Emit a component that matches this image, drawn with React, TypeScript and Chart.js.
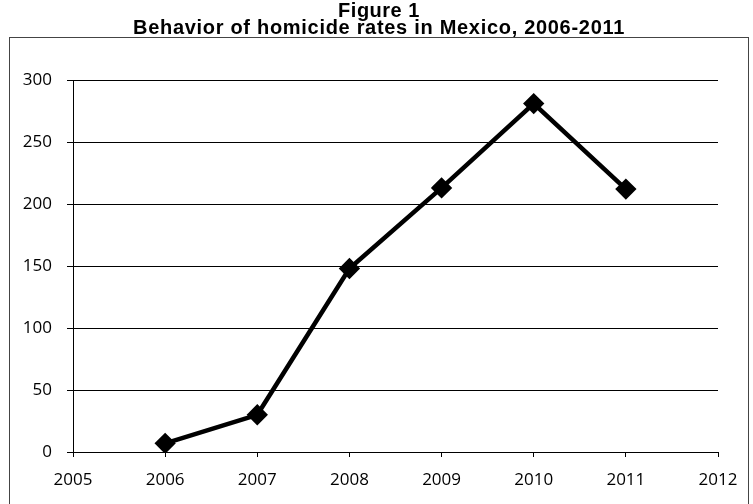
import React, { useEffect, useRef } from "react";
import { Chart, registerables } from "chart.js";

Chart.register(...registerables);

const years = [2006, 2007, 2008, 2009, 2010, 2011];
const homicideRates = [7, 30, 148, 213, 281, 212];
const titleLines = ["Figure 1", "Behavior of homicide rates in Mexico, 2006-2011"];

const framePlugin = {
  id: "frame",
  beforeDraw(chart: any) {
    const ctx = chart.ctx;
    ctx.save();
    ctx.fillStyle = "#ffffff";
    ctx.fillRect(0, 0, chart.width, chart.height);
    ctx.strokeStyle = "#444";
    ctx.lineWidth = 1;
    ctx.strokeRect(9.5, 37.5, chart.width - 14, chart.height - 36);
    ctx.fillStyle = "#000";
    ctx.textAlign = "center";
    ctx.textBaseline = "middle";
    ctx.font = "bold 20px 'Liberation Sans', Arial, sans-serif";
    (ctx as any).letterSpacing = "0.5px";
    ctx.fillText(titleLines[0], 379, 11);
    (ctx as any).letterSpacing = "0.7px";
    ctx.fillText(titleLines[1], 379, 28);
    ctx.restore();
  },
};

export default function App() {
  const ref = useRef<HTMLCanvasElement>(null);
  useEffect(() => {
    if (!ref.current) return;
    const chart = new Chart(ref.current, {
      type: "line",
      data: {
        datasets: [
          {
            data: years.map((y, i) => ({ x: y, y: homicideRates[i] })),
            borderColor: "#000",
            backgroundColor: "#000",
            borderWidth: 4.5,
            pointStyle: "rectRot",
            pointRadius: 7.5,
            pointHoverRadius: 7.5,
            tension: 0,
          },
        ],
      },
      options: {
        responsive: false,
        animation: false,
        layout: { padding: { top: 80, right: 35, left: 0, bottom: 0 } },
        plugins: { legend: { display: false }, tooltip: { enabled: false } },
        scales: {
          x: {
            type: "linear",
            min: 2005,
            max: 2012,
            afterFit: (s: any) => { s.height = 52; },
            ticks: {
              stepSize: 1,
              color: "#000",
              padding: 13,
              font: { family: "'Open Sans', sans-serif", size: 17 },
              callback: (v: any) => String(v),
            },
            grid: { drawOnChartArea: false, drawTicks: true, tickLength: 5, color: "#000" },
            border: { color: "#000", width: 1 },
          },
          y: {
            min: 0,
            max: 300,
            afterFit: (s: any) => { s.width = 73; },
            ticks: {
              stepSize: 50,
              color: "#000",
              padding: 15,
              font: { family: "'Open Sans', sans-serif", size: 17 },
            },
            grid: { color: "#000", lineWidth: 1, tickLength: 6 },
            border: { color: "#000", width: 1 },
          },
        },
      },
      plugins: [framePlugin],
    });
    return () => chart.destroy();
  }, []);
  return (
    <div style={{ position: "absolute", left: 0, top: 0 }}>
      <canvas ref={ref} width={753} height={504} />
    </div>
  );
}
